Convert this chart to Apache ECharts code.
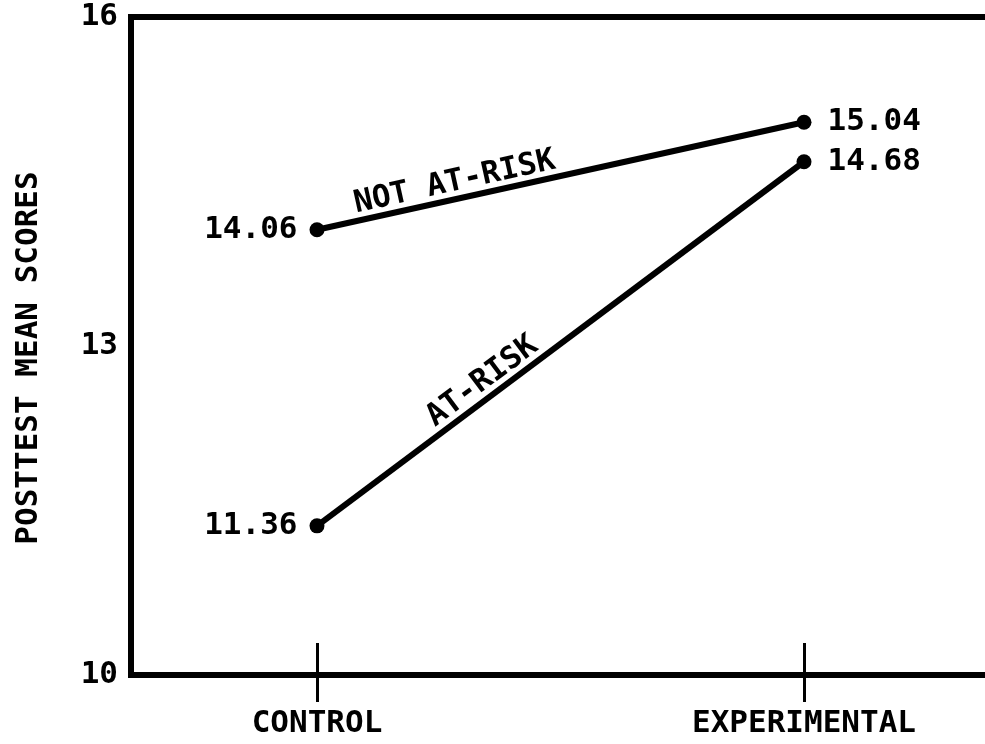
<!DOCTYPE html>
<html>
<head>
<meta charset="utf-8">
<script src="https://cdn.jsdelivr.net/npm/echarts@6/dist/echarts.min.js"></script>
<style>
html,body{margin:0;padding:0;background:#fff;}
#main{width:985px;height:744px;}
</style>
</head>
<body>
<div id="main"></div>
<script>
const categories = ['CONTROL', 'EXPERIMENTAL'];
const groupNames = ['NOT AT-RISK', 'AT-RISK'];
const notAtRisk = [14.06, 15.04];
const atRisk = [11.36, 14.68];
const yTickValues = [10, 13, 16];
const yAxisTitle = 'POSTTEST MEAN SCORES';

const FONT = '"DejaVu Sans Mono", "Liberation Mono", monospace';
const catIdx = categories.map((c, i) => i);

function mkSeries(name, vals) {
  return {
    name: name,
    type: 'line',
    xAxisIndex: 0,
    yAxisIndex: 0,
    data: vals.map((v, i) => ({
      value: [i, v],
      label: { position: i === 0 ? 'left' : 'right', distance: i === 0 ? 12 : 16 }
    })),
    symbol: 'circle',
    symbolSize: 15,
    itemStyle: { color: '#000' },
    lineStyle: { color: '#000', width: 6 },
    label: {
      show: true,
      fontFamily: FONT,
      fontSize: 31,
      fontWeight: 'bold',
      color: '#000',
      formatter: p => p.value[1].toFixed(2)
    },
    z: 5
  };
}

const chart = echarts.init(document.getElementById('main'), null, { renderer: 'canvas' });
const xMin = -0.3819, xMax = 1.3922;
const option = {
  animation: false,
  backgroundColor: '#fff',
  grid: {
    left: 131, right: -10, top: 17, bottom: 69,
    containLabel: false,
    outerBoundsMode: 'none',
    show: true, borderColor: '#000', borderWidth: 6,
    backgroundColor: 'transparent'
  },
  xAxis: [
    {
      type: 'value', min: xMin, max: xMax, position: 'bottom',
      axisLine: { show: true, onZero: false, lineStyle: { color: '#000', width: 6 } },
      axisTick: { show: true, customValues: catIdx, length: 27, lineStyle: { color: '#000', width: 3 } },
      axisLabel: {
        show: true, customValues: catIdx, margin: 33,
        fontFamily: FONT, fontSize: 31, fontWeight: 'bold', color: '#000',
        formatter: v => categories[Math.round(v)]
      },
      splitLine: { show: false }
    },
    {
      type: 'value', min: xMin, max: xMax, position: 'bottom',
      axisLine: { show: false, onZero: false },
      axisTick: { show: true, inside: true, customValues: catIdx, length: 32, lineStyle: { color: '#000', width: 3 } },
      axisLabel: { show: false },
      splitLine: { show: false }
    }
  ],
  yAxis: {
    type: 'value', min: yTickValues[0], max: yTickValues[yTickValues.length - 1],
    interval: yTickValues[1] - yTickValues[0],
    name: yAxisTitle, nameLocation: 'middle', nameGap: 87, nameRotate: 90,
    nameTextStyle: { fontFamily: FONT, fontSize: 31, fontWeight: 'bold', color: '#000', padding: [0, 24, 0, 0] },
    axisLine: { show: true, onZero: false, lineStyle: { color: '#000', width: 6 } },
    axisTick: { show: false },
    axisLabel: { fontFamily: FONT, fontSize: 31, fontWeight: 'bold', color: '#000', margin: 13 },
    splitLine: { show: false }
  },
  series: [mkSeries(groupNames[0], notAtRisk), mkSeries(groupNames[1], atRisk)]
};
chart.setOption(option);

// Line name labels placed along each line, computed from the library's scales
const fractions = [0.29, 0.36];
const seriesVals = [notAtRisk, atRisk];
const graphics = seriesVals.map((vals, k) => {
  const p0 = chart.convertToPixel({ xAxisIndex: 0, yAxisIndex: 0 }, [0, vals[0]]);
  const p1 = chart.convertToPixel({ xAxisIndex: 0, yAxisIndex: 0 }, [1, vals[1]]);
  const t = fractions[k];
  const x = p0[0] + (p1[0] - p0[0]) * t;
  const y = p0[1] + (p1[1] - p0[1]) * t;
  const ang = Math.atan2(-(p1[1] - p0[1]), p1[0] - p0[0]);
  return {
    type: 'text',
    x: x, y: y, rotation: ang,
    style: {
      text: groupNames[k], x: 0, y: -1,
      align: 'center', verticalAlign: 'bottom',
      font: 'bold 31px ' + FONT, fill: '#000'
    },
    z: 10
  };
});
chart.setOption({ graphic: graphics });
</script>
</body>
</html>
